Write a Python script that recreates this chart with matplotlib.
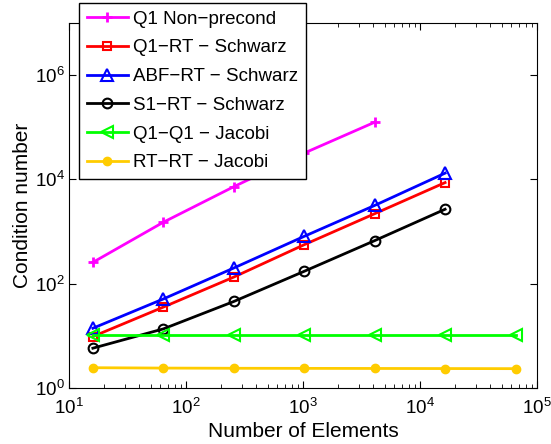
import matplotlib
matplotlib.use("Agg")
import matplotlib.pyplot as plt
from matplotlib.ticker import LogLocator, NullLocator, NullFormatter, LogFormatterMathtext

plt.rcParams['font.family'] = ['Liberation Sans', 'DejaVu Sans']
plt.rcParams['mathtext.fontset'] = 'custom'
plt.rcParams['mathtext.rm'] = 'Liberation Sans'

# -----------------------
# DATA
# -----------------------
elements = [16, 64, 256, 1024, 4096, 16384, 65536]

q1_nonprecond = [257, 1510, 7250, 32000, 125000]
q1rt_schwarz = [9.7, 35.6, 134, 560, 2200, 8700]
abfrt_schwarz = [14, 51, 200, 810, 3170, 13200]
s1rt_schwarz = [5.8, 13.6, 45.6, 173, 670, 2680]
q1q1_jacobi = [10.5, 10.5, 10.5, 10.5, 10.5, 10.5, 10.5]
rtrt_jacobi = [2.45, 2.41, 2.39, 2.38, 2.37, 2.36, 2.35]

labels = ["Q1 Non\u2212precond", "Q1\u2212RT \u2212 Schwarz", "ABF\u2212RT \u2212 Schwarz",
          "S1\u2212RT \u2212 Schwarz", "Q1\u2212Q1 \u2212 Jacobi", "RT\u2212RT \u2212 Jacobi"]

# -----------------------
# PLOT
# -----------------------
fig = plt.figure(figsize=(5.51, 4.44), dpi=100)
ax = fig.add_axes([69 / 551, 56 / 444, 468 / 551, 365 / 444])

lw = 2
ax.plot(elements[:len(q1_nonprecond)], q1_nonprecond, color="#ff00ff", marker="+",
        markersize=7, markeredgewidth=2, linewidth=lw, label=labels[0])
ax.plot(elements[:len(q1rt_schwarz)], q1rt_schwarz, color="#ff0000", marker="s",
        markersize=6, markerfacecolor="none", markeredgewidth=1.5, linewidth=lw, label=labels[1])
ax.plot(elements[:len(abfrt_schwarz)], abfrt_schwarz, color="#0000ff", marker="^",
        markersize=8, markerfacecolor="none", markeredgewidth=1.5, linewidth=lw, label=labels[2])
ax.plot(elements[:len(s1rt_schwarz)], s1rt_schwarz, color="#000000", marker="o",
        markersize=7, markerfacecolor="none", markeredgewidth=1.5, linewidth=lw, label=labels[3])
ax.plot(elements, q1q1_jacobi, color="#00ff00", marker="<",
        markersize=8, markerfacecolor="none", markeredgewidth=1.5, linewidth=lw, label=labels[4])
ax.plot(elements, rtrt_jacobi, color="#ffcc00", marker="o",
        markersize=6, linewidth=lw, label=labels[5])

ax.set_xscale("log")
ax.set_yscale("log")
ax.set_xlim(10, 1e5)
ax.set_ylim(1, 1e7)

ax.xaxis.set_major_locator(LogLocator(base=10, numticks=10))
ax.xaxis.set_minor_locator(LogLocator(base=10, subs=range(2, 10), numticks=20))
ax.xaxis.set_minor_formatter(NullFormatter())
ax.yaxis.set_major_locator(LogLocator(base=100, numticks=10))
ax.yaxis.set_minor_locator(NullLocator())
ax.yaxis.set_minor_formatter(NullFormatter())
ax.xaxis.set_major_formatter(LogFormatterMathtext())
ax.yaxis.set_major_formatter(LogFormatterMathtext(base=10))

ax.tick_params(which="both", direction="in", top=True, right=True, labelsize=13.5)
ax.tick_params(which="major", length=5)
ax.tick_params(which="minor", length=3)
ax.tick_params(axis="x", which="both", pad=7)
ax.tick_params(axis="y", which="both", pad=3)

ax.set_xlabel("Number of Elements", fontsize=15, labelpad=3)
ax.set_ylabel("Condition number", fontsize=15, labelpad=2)

leg = ax.legend(loc="upper left", bbox_to_anchor=(79 / 551, 1 - 3 / 444),
                bbox_transform=fig.transFigure, borderaxespad=0, fontsize=13.5,
                handlelength=2.2, handletextpad=0.3, labelspacing=0.62,
                borderpad=0.4, fancybox=False, framealpha=1, edgecolor="black")
leg.get_frame().set_linewidth(1.0)

fig.savefig("out.png", dpi=100)
